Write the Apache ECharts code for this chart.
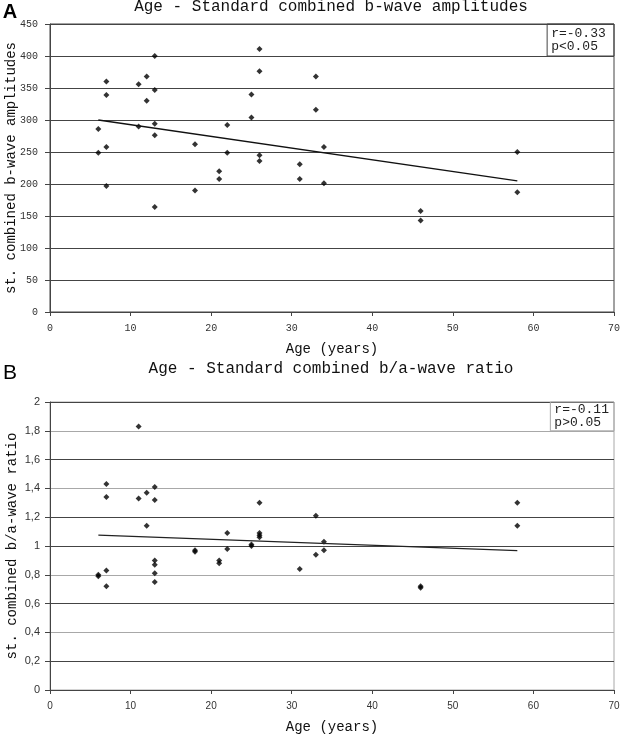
<!DOCTYPE html>
<html>
<head>
<meta charset="utf-8">
<script src="https://cdn.jsdelivr.net/npm/echarts@6/dist/echarts.min.js"></script>
<style>
html,body{margin:0;padding:0;background:#fff;}
#c{width:627px;height:734px;}
</style>
</head>
<body>
<div id="c"></div>
<script>
// ---- Data ----
const titleA = 'Age - Standard combined b-wave amplitudes';
const titleB = 'Age - Standard combined b/a-wave ratio';
const yNameA = 'st. combined b-wave amplitudes';
const yNameB = 'st. combined b/a-wave ratio';
const xName = 'Age (years)';

const ageA = [6,6,7,7,7,7,11,11,12,12,13,13,13,13,13,18,18,21,21,22,22,25,25,26,26,26,26,31,31,33,33,34,34,46,46,58,58];
const ampA = [286,249,360,339,258,197,356,290,368,330,400,347,294,276,164,262,190,220,208,292,249,340,304,411,376,245,236,231,208,368,316,258,201,158,143,250,187];
const trendA = [[6,300],[58,205]];
const statsA = ['r=-0.33','p<0.05'];
const boxA = [[61.7,400],[70,450]];

const ageB = [6,6,7,7,7,7,11,11,12,12,13,13,13,13,13,13,18,18,21,21,22,22,25,25,26,26,26,26,31,33,33,34,34,46,46,58,58];
const ratioB = [0.80,0.79,1.43,1.34,0.83,0.72,1.83,1.33,1.37,1.14,1.41,1.32,0.90,0.87,0.81,0.75,0.97,0.96,0.90,0.88,1.09,0.98,1.01,1.00,1.30,1.09,1.075,1.06,0.84,1.21,0.94,1.03,0.97,0.72,0.71,1.30,1.14];
const trendB = [[6,1.075],[58,0.968]];
const statsB = ['r=-0.11','p>0.05'];
const boxB = [[62.1,1.8],[70,2]];

const xTicks = {min:0, max:70, interval:10};
const yTicksA = {min:0, max:450, interval:50};
const yTicksB = {min:0, max:2, interval:0.2};

// ---- Chart ----
const MONO = '"Liberation Mono","DejaVu Sans Mono",monospace';
const SANS = '"Liberation Sans Narrow","Liberation Sans",Arial,sans-serif';
const DARK = '#444';
const GRAY = '#a8a8a8';

const chart = echarts.init(document.getElementById('c'), null, {renderer:'canvas'});

function xAxis(gridIndex, labelFont){
  return {
    type:'value', gridIndex, min:xTicks.min, max:xTicks.max, interval:xTicks.interval,
    name:xName, nameLocation:'middle', nameGap:30, nameMoveOverlap:false,
    nameTextStyle:{fontFamily:MONO, fontSize:14, color:'#111'},
    axisLine:{show:true, onZero:false, lineStyle:{color:DARK, width:1}},
    axisTick:{show:true, length:4, inside:false, lineStyle:{color:DARK}},
    axisLabel:{margin:11, fontFamily:labelFont, fontSize:10, color:'#333'},
    splitLine:{show:false}
  };
}

function boxSeries(xi, yi, box, color){
  return {
    type:'scatter', xAxisIndex:xi, yAxisIndex:yi, symbolSize:0, silent:true, data:[],
    markArea:{
      silent:true,
      itemStyle:{color:'rgba(0,0,0,0)', borderColor:color, borderWidth:1},
      label:{show:false},
      data:[[{coord:box[0]},{coord:box[1]}]]
    }
  };
}

const option = {
  animation:false,
  backgroundColor:'#fff',
  grid:[
    {left:50, right:13, top:24, height:288, outerBoundsMode:'none', containLabel:false, show:true, borderColor:DARK, borderWidth:1, backgroundColor:'transparent'},
    {left:50, right:13, top:402, height:288, outerBoundsMode:'none', containLabel:false, show:true, borderColor:GRAY, borderWidth:1, backgroundColor:'transparent'}
  ],
  xAxis:[ xAxis(0, MONO), xAxis(1, SANS) ],
  yAxis:[
    {
      type:'value', gridIndex:0, min:yTicksA.min, max:yTicksA.max, interval:yTicksA.interval,
      name:yNameA, nameLocation:'middle', nameRotate:90, nameGap:32, nameMoveOverlap:false,
      nameTextStyle:{fontFamily:MONO, fontSize:14, color:'#111'},
      axisLine:{show:true, lineStyle:{color:DARK}},
      axisTick:{show:true, length:5, lineStyle:{color:DARK}},
      axisLabel:{margin:12, fontFamily:MONO, fontSize:10, color:'#333'},
      splitLine:{show:true, lineStyle:{color:DARK, width:1}}
    },
    {
      type:'value', gridIndex:1, min:yTicksB.min, max:yTicksB.max, interval:yTicksB.interval,
      name:yNameB, nameLocation:'middle', nameRotate:90, nameGap:31, nameMoveOverlap:false,
      nameTextStyle:{fontFamily:MONO, fontSize:14, color:'#111'},
      axisLine:{show:true, lineStyle:{color:DARK}},
      axisTick:{show:true, length:5, lineStyle:{color:DARK}},
      axisLabel:{margin:10, fontFamily:SANS, fontSize:11, color:'#333',
        formatter:v => (Math.round(v*10)/10).toString().replace('.', ',')},
      splitLine:{show:true, showMinLine:true, showMaxLine:true,
        lineStyle:{color:[DARK,DARK,GRAY,DARK,GRAY,DARK,DARK,GRAY,DARK,GRAY,DARK], width:1}}
    }
  ],
  series:[
    {
      type:'scatter', xAxisIndex:0, yAxisIndex:0, symbol:'diamond', symbolSize:6,
      itemStyle:{color:'#000'},
      data: ageA.map((a,i)=>[a, ampA[i]])
    },
    {
      type:'line', xAxisIndex:0, yAxisIndex:0, symbol:'none',
      lineStyle:{color:'#111', width:1.3}, data:trendA
    },
    boxSeries(0, 0, boxA, DARK),
    {
      type:'scatter', xAxisIndex:1, yAxisIndex:1, symbol:'diamond', symbolSize:6,
      itemStyle:{color:'#000'},
      data: ageB.map((a,i)=>[a, ratioB[i]])
    },
    {
      type:'line', xAxisIndex:1, yAxisIndex:1, symbol:'none',
      lineStyle:{color:'#222', width:1.3}, data:trendB
    },
    boxSeries(1, 1, boxB, GRAY)
  ]
};
chart.setOption(option);

// stats text anchored to the top-left corner of each box (through the axes)
const pA = chart.convertToPixel({xAxisIndex:0, yAxisIndex:0}, [boxA[0][0], boxA[1][1]]);
const pB = chart.convertToPixel({xAxisIndex:1, yAxisIndex:1}, [boxB[0][0], boxB[1][1]]);
chart.setOption({
  graphic:[
    {type:'text', x:10, y:12, style:{text:'A', font:'bold 20px "Liberation Sans",Arial,sans-serif', fill:'#000', align:'center', verticalAlign:'middle'}},
    {type:'text', x:331, y:7, style:{text:titleA, font:'16px ' + MONO, fill:'#111', align:'center', verticalAlign:'middle'}},
    {type:'text', x:10, y:373, style:{text:'B', font:'21px "Liberation Sans",Arial,sans-serif', fill:'#000', align:'center', verticalAlign:'middle'}},
    {type:'text', x:331, y:369, style:{text:titleB, font:'16px ' + MONO, fill:'#111', align:'center', verticalAlign:'middle'}},
    {type:'text', x:pA[0]+4, y:pA[1]+3, style:{text:statsA.join('\n'), font:'13px ' + MONO, lineHeight:13, fill:'#222', align:'left', verticalAlign:'top'}},
    {type:'text', x:pB[0]+4, y:pB[1]+1, style:{text:statsB.join('\n'), font:'13px ' + MONO, lineHeight:13, fill:'#222', align:'left', verticalAlign:'top'}}
  ]
});
</script>
</body>
</html>
